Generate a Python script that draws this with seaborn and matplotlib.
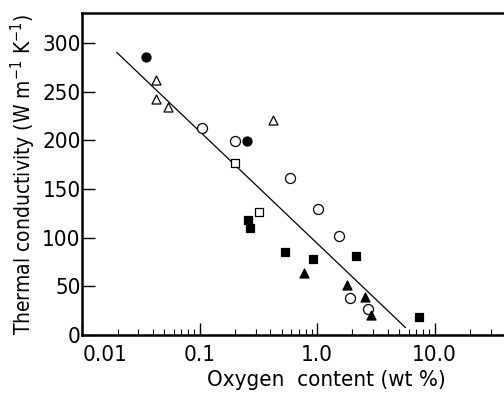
import matplotlib
matplotlib.use("Agg")
import matplotlib.pyplot as plt
import matplotlib.ticker as mticker
import seaborn as sns
import pandas as pd

# Data (oxygen wt %, thermal conductivity W/m/K)
filled_circle_x = [0.035, 0.252]
filled_circle_y = [286, 199]

open_triangle_x = [0.0423, 0.0423, 0.0537, 0.42]
open_triangle_y = [262, 243, 234, 221]

open_circle_x = [0.104, 0.202, 0.59, 1.02, 1.55, 1.92, 2.73]
open_circle_y = [213, 199, 161, 129, 102, 38, 27]

open_square_x = [0.202, 0.32]
open_square_y = [177, 126]

filled_square_x = [0.26, 0.27, 0.536, 0.927, 2.15, 7.3]
filled_square_y = [118, 110, 85, 78, 81, 18]

filled_triangle_x = [0.78, 1.79, 2.58, 2.86]
filled_triangle_y = [64, 51, 39, 20]

# fitted line end points
fit_x = [0.0197, 5.66]
fit_y = [290.5, 7.5]

x_ticks = [0.01, 0.1, 1.0, 10.0]
x_ticklabels = ["0.01", "0.1", "1.0", "10.0"]
y_ticks = [0, 50, 100, 150, 200, 250, 300]

sns.set_style("ticks")
plt.rcParams["font.family"] = ["DejaVu Sans"]
plt.rcParams["font.stretch"] = "condensed"
plt.rcParams["mathtext.default"] = "regular"
plt.rcParams["text.color"] = "black"
plt.rcParams["xtick.color"] = "black"
plt.rcParams["ytick.color"] = "black"
plt.rcParams["axes.labelcolor"] = "black"

fig = plt.figure(figsize=(5.04, 3.94), dpi=100)
ax = fig.add_axes([0.163, 0.150, 0.837, 0.817])

groups = [
    (filled_circle_x, filled_circle_y, "o", "black", 42),
    (open_triangle_x, open_triangle_y, "^", "white", 42),
    (open_circle_x, open_circle_y, "o", "white", 52),
    (open_square_x, open_square_y, "s", "white", 30),
    (filled_square_x, filled_square_y, "s", "black", 30),
    (filled_triangle_x, filled_triangle_y, "^", "black", 42),
]
for gx, gy, mk, fc, sz in groups:
    df = pd.DataFrame({"oxygen": gx, "k": gy})
    sns.scatterplot(data=df, x="oxygen", y="k", marker=mk, s=sz,
                    facecolor=fc, edgecolor="black", linewidth=0.9,
                    ax=ax, zorder=3)

fit = pd.DataFrame({"oxygen": fit_x, "k": fit_y})
sns.lineplot(data=fit, x="oxygen", y="k", color="black", linewidth=0.9, ax=ax)

ax.set_xscale("log")
ax.set_xlim(0.01, 39)
ax.set_ylim(0, 331)
ax.set_xticks(x_ticks)
ax.set_xticklabels(x_ticklabels)
ax.xaxis.set_minor_locator(mticker.LogLocator(base=10, subs=range(2, 10)))
ax.xaxis.set_minor_formatter(mticker.NullFormatter())
ax.set_yticks(y_ticks)

ax.tick_params(axis="y", which="major", direction="in", length=9,
               width=1.0, labelsize=16, pad=1)
ax.tick_params(axis="x", which="major", direction="in", length=9,
               width=1.0, labelsize=16, pad=7)
ax.tick_params(axis="x", which="minor", direction="in", length=4, width=0.8)
ax.tick_params(top=False, right=False)

# "0.01" sits right of its tick in the original, clear of the "0"
ax.get_xticklabels()[0].set_horizontalalignment("left")

for side in ["left", "top", "bottom"]:
    ax.spines[side].set_linewidth(1.8)
    ax.spines[side].set_color("black")
ax.spines["right"].set_visible(False)

ax.set_xlabel("Oxygen  content (wt %)", fontsize=16, labelpad=0)
ax.xaxis.set_label_coords(0.578, -0.11, transform=ax.transAxes)
ax.xaxis.label.set_verticalalignment("top")
ax.set_ylabel("Thermal conductivity (W m$^{-1}$ K$^{-1}$)", fontsize=15,
              labelpad=3)

fig.savefig("out.png", dpi=100)
